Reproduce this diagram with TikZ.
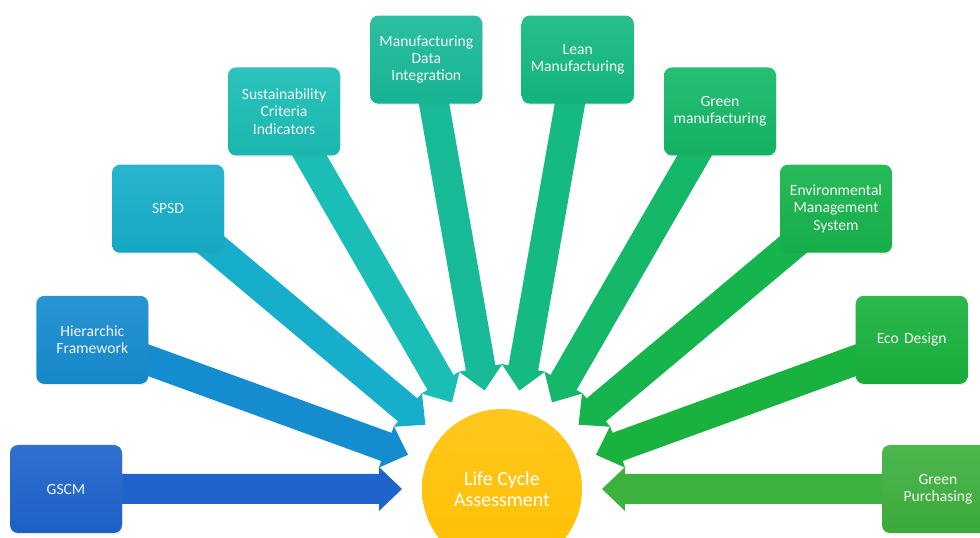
\documentclass[tikz,border=0pt]{standalone}
\usepackage{fontspec}
\setmainfont{Carlito}
\usetikzlibrary{shadows,calc}
\definecolor{col0}{RGB}{30,100,204}
\definecolor{col1}{RGB}{22,140,208}
\definecolor{col2}{RGB}{22,174,202}
\definecolor{col3}{RGB}{26,190,182}
\definecolor{col4}{RGB}{24,186,152}
\definecolor{col5}{RGB}{20,186,128}
\definecolor{col6}{RGB}{20,184,104}
\definecolor{col7}{RGB}{22,180,76}
\definecolor{col8}{RGB}{26,178,62}
\definecolor{col9}{RGB}{62,176,62}
\definecolor{lcaY}{RGB}{255,192,0}
\pgfdeclarelayer{bg}
\pgfsetlayers{bg,main}
\tikzset{
  box/.style={rounded corners=6pt, minimum width=84pt, minimum height=66pt,
    text width=80pt, align=center, text=white!96!black, inner sep=0pt,
    font=\fontsize{11.7}{13}\selectfont,
    drop shadow={opacity=0.15, shadow xshift=0.6pt, shadow yshift=-1.2pt}},
  lcacircle/.style={circle, minimum size=120pt, inner sep=0pt, text=white,
    align=center, top color=lcaY!88!white, bottom color=lcaY,
    font=\fontsize{15}{15.5}\selectfont}
}
\begin{document}
\begin{tikzpicture}[x=0.75pt,y=0.75pt]
\useasboundingbox (0,0) rectangle (980,538);
\clip (0,0) rectangle (980,538);
\node[lcacircle] (lca) at (502,49) {Life Cycle\\Assessment};
\foreach \i/\ang/\txt in {0/180/GSCM, 1/160/{Hierarchic\\Framework}, 2/140/SPSD,
   3/120/{Sustainability\\Criteria\\Indicators}, 4/100/{Manufacturing\\Data\\Integration},
   5/80/{Lean\\Manufacturing}, 6/60/{Green\\manufacturing},
   7/40/{Environmental\\Management\\System}, 8/20/Eco Design, 9/0/{Green\\Purchasing}}{
  \node[box, top color=col\i!92!white, bottom color=col\i!96!black]
     (b\i) at ($(lca.center)+(\ang:436)$) {\txt};
  \begin{pgfonlayer}{bg}
  \begin{scope}[shift={(lca.center)}, rotate=\ang]
    \fill[col\i] (100,0) -- (123,22) -- (123,15) -- (436,15) -- (436,-15)
      -- (123,-15) -- (123,-22) -- cycle;
  \end{scope}
  \end{pgfonlayer}
}
\end{tikzpicture}
\end{document}
